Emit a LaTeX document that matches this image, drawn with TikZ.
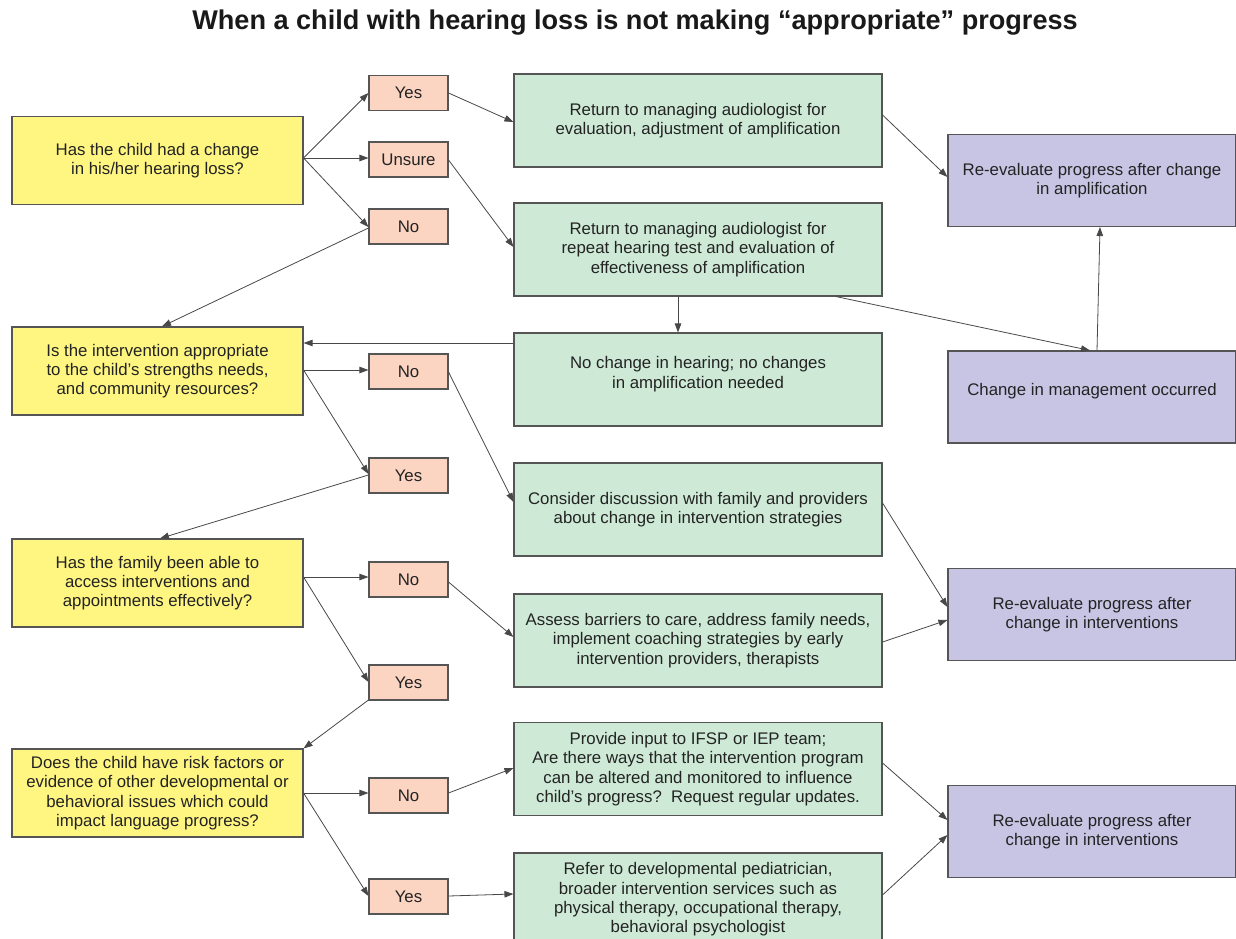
\documentclass[tikz,border=0pt]{standalone}
\usepackage{fontspec}
\setmainfont{Liberation Sans}
\usetikzlibrary{arrows.meta}
\definecolor{qyel}{RGB}{255,246,130}
\definecolor{apink}{RGB}{252,212,194}
\definecolor{agreen}{RGB}{206,234,214}
\definecolor{apurple}{RGB}{200,196,228}
\definecolor{bordc}{RGB}{85,85,85}
\definecolor{txtc}{RGB}{35,35,35}
\begin{document}
\begin{tikzpicture}[x=1pt,y=-1pt,
  box/.style={draw=bordc,line width=1.1pt,inner sep=0pt,align=center,text=txtc,
    font=\fontsize{16.8}{19.3}\selectfont},
  qbox/.style={box,fill=qyel,minimum width=291pt,minimum height=88pt},
  abox/.style={box,fill=apink,minimum width=79pt,minimum height=35pt},
  gbox/.style={box,fill=agreen,minimum width=368pt,minimum height=93pt},
  pbox/.style={box,fill=apurple,minimum width=288pt,minimum height=92pt},
  conn/.style={draw=bordc!85!black,line width=0.8pt,-{Triangle[length=9pt,width=6.5pt]}}
]
\useasboundingbox (0,0) rectangle (1236,939);
\node[font=\bfseries\fontsize{27.1}{30}\selectfont,text=black!90] (title) at (635,23)
  {When a child with hearing loss is not making “appropriate” progress};

% questions
\node[qbox] (Q1) at (157.5,160.5) {Has the child had a change\\in his/her hearing loss?};
\node[qbox] (Q2) at (157.5,371) {Is the intervention appropriate\\to the child's strengths needs,\\and community resources?};
\node[qbox] (Q3) at (157.5,583) {Has the family been able to\\access interventions and\\appointments effectively?};
\node[qbox] (Q4) at (157.5,793) {Does the child have risk factors or\\evidence of other developmental or\\behavioral issues which could\\impact language progress?};

% answers
\node[abox] (Y1) at (408.5,93) {Yes};
\node[abox] (U1) at (408.5,159.5) {Unsure};
\node[abox] (N1) at (408.5,226.5) {No};
\node[abox] (N2) at (408.5,371.5) {No};
\node[abox] (Y2) at (408.5,475.5) {Yes};
\node[abox] (N3) at (408.5,579.5) {No};
\node[abox] (Y3) at (408.5,682.5) {Yes};
\node[abox] (N4) at (408.5,795.5) {No};
\node[abox] (Y4) at (408.5,896.5) {Yes};

% actions
\node[gbox] (G1) at (698,120.5) {Return to managing audiologist for\\evaluation, adjustment of amplification};
\node[gbox] (G2) at (698,249.5) {Return to managing audiologist for\\repeat hearing test and evaluation of\\effectiveness of amplification};
\node[gbox,text depth=14pt] (G3) at (698,379.5) {No change in hearing; no changes\\in amplification needed};
\node[gbox] (G4) at (698,509.5) {Consider discussion with family and providers\\about change in intervention strategies};
\node[gbox] (G5) at (698,640.5) {Assess barriers to care, address family needs,\\implement coaching strategies by early\\intervention providers, therapists};
\node[gbox] (G6) at (698,769) {Provide input to IFSP or IEP team;\\Are there ways that the intervention program\\can be altered and monitored to influence\\child's progress?\ \ Request regular updates.};
\node[gbox] (G7) at (698,899.5) {Refer to developmental pediatrician,\\broader intervention services such as\\physical therapy, occupational therapy,\\behavioral psychologist};

% outcomes
\node[pbox] (P1) at (1092,180.5) {Re-evaluate progress after change\\in amplification};
\node[pbox,text depth=15pt] (P2) at (1092,397) {Change in management occurred};
\node[pbox] (P3) at (1092,614.5) {Re-evaluate progress after\\change in interventions};
\node[pbox] (P4) at (1092,831.5) {Re-evaluate progress after\\change in interventions};

% connectors
\draw[conn] (Q1.east |- 0,158) -- (Y1.west |- 0,93);
\draw[conn] (Q1.east |- 0,158) -- (U1.west |- 0,158);
\draw[conn] (Q1.east |- 0,158) -- (N1.west |- 0,227);
\draw[conn] (Y1.east |- 0,93) -- (G1.west |- 0,122);
\draw[conn] (U1.east |- 0,160) -- (G2.west |- 0,247);
\draw[conn] (N1.west |- 0,228) -- (162,0 |- Q2.north);
\draw[conn] (G1.east |- 0,115) -- (P1.west |- 0,177);
\draw[conn] (678,0 |- G2.south) -- (678,0 |- G3.north);
\draw[conn] (836,0 |- G2.south) -- (1090,0 |- P2.north);
\draw[conn] (1097,0 |- P2.north) -- (1100,0 |- P1.south);
\draw[conn] (G3.west |- 0,343) -- (Q2.east |- 0,343);
\draw[conn] (Q2.east |- 0,370) -- (N2.west |- 0,370);
\draw[conn] (Q2.east |- 0,370) -- (Y2.west |- 0,474);
\draw[conn] (N2.east |- 0,372) -- (G4.west |- 0,502);
\draw[conn] (Y2.west |- 0,475) -- (160,0 |- Q3.north);
\draw[conn] (Q3.east |- 0,577) -- (N3.west |- 0,577);
\draw[conn] (Q3.east |- 0,577) -- (Y3.west |- 0,682);
\draw[conn] (N3.east |- 0,582) -- (G5.west |- 0,637);
\draw[conn] (G4.east |- 0,503) -- (P3.west |- 0,607);
\draw[conn] (G5.east |- 0,642) -- (P3.west |- 0,620);
\draw[conn] (Y3.west |- 0,700) -- (Q4.north east);
\draw[conn] (Q4.east |- 0,793) -- (N4.west |- 0,793);
\draw[conn] (Q4.east |- 0,793) -- (Y4.west |- 0,896);
\draw[conn] (N4.east |- 0,793) -- (G6.west |- 0,768);
\draw[conn] (Y4.east |- 0,896) -- (G7.west |- 0,894);
\draw[conn] (G6.east |- 0,763) -- (P4.west |- 0,820);
\draw[conn] (G7.east |- 0,895) -- (P4.west |- 0,835);
\end{tikzpicture}
\end{document}
